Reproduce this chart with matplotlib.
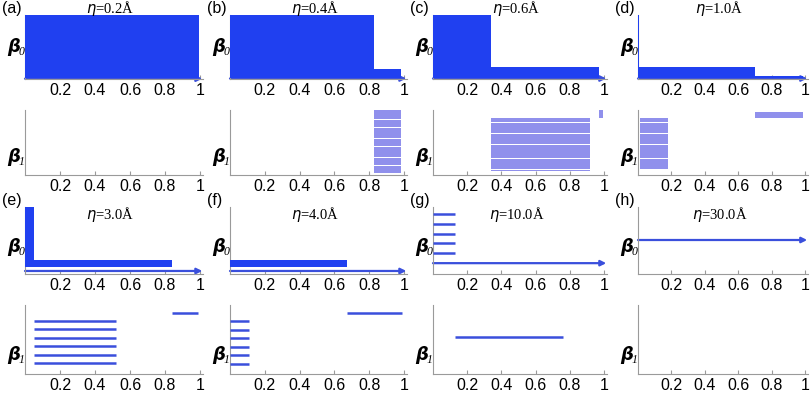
import numpy as np
import matplotlib.pyplot as plt

# persistence barcodes for 8 filtration sizes
panels = ['(a)', '(b)', '(c)', '(d)', '(e)', '(f)', '(g)', '(h)']
etas = ['0.2', '0.4', '0.6', '1.0', '3.0', '4.0', '10.0', '30.0']

# (birth, death, number of bars), stacked bottom to top
# every beta0 barcode also has one infinite bar (the arrow) at the bottom
beta0_bars = [
    [(0.0, 0.995, 100)],
    [(0.0, 0.98, 9), (0.0, 0.83, 53)],
    [(0.0, 0.97, 11), (0.0, 0.34, 52)],
    [(0.0, 0.99, 2), (0.0, 0.70, 9), (0.0, 0.008, 52)],
    [(0.0, 0.84, 10), (0.0, 0.05, 53)],
    [(0.0, 0.67, 10)],
    [(0.0, 0.13, 5)],
    [],
]
beta1_bars = [
    [],
    [(0.83, 0.98, 40)],
    [(0.34, 0.92, 34), (0.97, 0.995, 5)],
    [(0.01, 0.18, 33), (0.70, 0.99, 4)],
    [(0.05, 0.52, 6), (0.84, 0.99, 1)],
    [(0.0, 0.11, 6), (0.67, 0.99, 1)],
    [(0.13, 0.76, 1)],
    [],
]
xticks = [0.2, 0.4, 0.6, 0.8, 1.0]
xticklabels = ['0.2', '0.4', '0.6', '0.8', '1']

# ---- layout / style (pixels, figure is 810x396) ----
W, H = 810.0, 396.0
col_left = [25, 230, 433, 638]
col_unit = [175, 174, 171, 167]
row_ext = [(15, 79), (110, 175), (207, 274), (305, 374)]
b0_ylim = [(-0.5, 100.5), (-0.5, 62.5), (-0.5, 63.5), (-0.5, 63.5),
           (-3, 63.5), (-3, 63.5), (-1.1, 5.7), (-3.4, 3.3)]
b1_ylim = [(0, 1), (-1.5, 39.5), (-3, 38.5), (-4, 37.5),
           (-1.3, 6.9), (-1.2, 6.9), (-3.7, 3.2), (0, 1)]
b0_height = [1.0, 1.0, 1.0, 1.0, 0.9, 0.9, None, None]
b1_height = [None, 0.92, 0.92, 0.92, None, None, None, None]

dark = '#2040f0'
line = '#3a4fdc'
light = '#9090ec'
gray = '#9a9a9a'

plt.rcParams['font.family'] = ['Liberation Sans', 'DejaVu Sans']

fig = plt.figure(figsize=(8.1, 3.96), dpi=100)


def make_axes(col, row):
    top, bot = row_ext[row]
    ax = fig.add_axes([col_left[col] / W, 1 - bot / H,
                       col_unit[col] * 1.015 / W, (bot - top) / H])
    ax.set_xlim(0, 1.015)
    for s in ['top', 'right']:
        ax.spines[s].set_visible(False)
    for s in ['left', 'bottom']:
        ax.spines[s].set_color(gray)
        ax.spines[s].set_linewidth(0.8)
    ax.set_xticks(xticks)
    ax.set_xticklabels(xticklabels)
    ax.set_yticks([])
    ax.tick_params(axis='x', direction='in', length=3, color=gray,
                   labelsize=11.5, pad=3)
    return ax


def draw_bars(ax, bars, start, height, color):
    y = start
    for b, d, n in bars:
        ys = np.arange(y, y + n)
        if height is None:
            ax.hlines(ys, b, d, color=line, lw=1.8, zorder=3)
        else:
            ax.barh(ys, [d - b] * n, left=b, height=height, color=color,
                    edgecolor='none', zorder=3)
        y += n


def beta_label(ax, sub, yfrac):
    pos = ax.get_position()
    x = pos.x0 - 18 / W
    y = pos.y0 + yfrac * pos.height
    fig.text(x, y, 'β', fontsize=13, fontweight='bold', fontstyle='italic',
             ha='left', va='center', family='DejaVu Sans')
    fig.text(x + 11.5 / W, y - 5 / H, sub, fontsize=8.5, fontstyle='italic',
             ha='left', va='center', family='Liberation Serif')


for i in range(8):
    col = i % 4
    r0 = 0 if i < 4 else 2
    ax0 = make_axes(col, r0)
    ax1 = make_axes(col, r0 + 1)

    # beta0: infinite bar as arrow, then finite bars
    ax0.set_ylim(*b0_ylim[i])
    ax0.annotate('', xy=(1.013, 0), xytext=(0, 0),
                 arrowprops=dict(arrowstyle='-|>', color=line, lw=1.6,
                                 mutation_scale=8, shrinkA=0, shrinkB=0),
                 zorder=2)
    draw_bars(ax0, beta0_bars[i], 1, b0_height[i], dark)

    ax1.set_ylim(*b1_ylim[i])
    draw_bars(ax1, beta1_bars[i], 0, b1_height[i], light)

    beta_label(ax0, '0', 0.5 if r0 == 0 else 0.4)
    beta_label(ax1, '1', 0.27)

    # panel letter and eta title
    pos = ax0.get_position()
    cx = pos.x0 + 0.48 * pos.width
    if r0 == 0:
        fig.text((col_left[col] - 23) / W, 1 - 8 / H, panels[i], fontsize=11.5,
                 ha='left', va='center')
        ty = 1 - 8 / H
    else:
        fig.text((col_left[col] - 23) / W, 1 - 201 / H, panels[i], fontsize=11.5,
                 ha='left', va='center')
        ty = 1 - 215 / H
    fig.text(cx, ty, r'$\eta$=' + etas[i] + 'Å', fontsize=10.5,
             ha='center', va='center', family='Liberation Serif')

fig.savefig('out.png', dpi=100)
